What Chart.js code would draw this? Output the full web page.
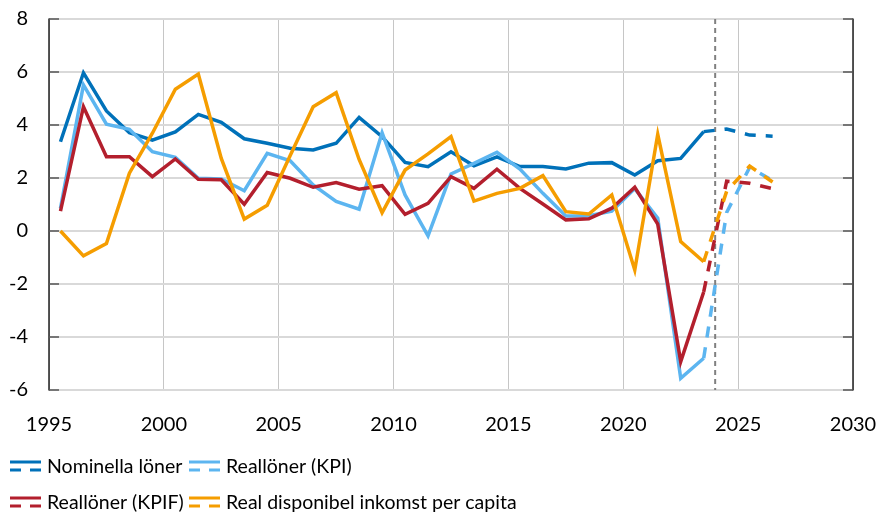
<!DOCTYPE html>
<html lang="sv">
<head>
  <meta charset="UTF-8">
  <title>Löner och disponibel inkomst</title>
  <style>
    html, body { margin: 0; padding: 0; background: #fff; }
    #wrap { width: 878px; height: 512px; }
  </style>
  <script src="https://cdn.jsdelivr.net/npm/chart.js"></script>
</head>
<body>
  <div id="wrap"><canvas id="chart" width="878" height="512"></canvas></div>

  <script>
    // Annual values, plotted mid-year
    const years = [1995, 1996, 1997, 1998, 1999, 2000, 2001, 2002, 2003, 2004,
                   2005, 2006, 2007, 2008, 2009, 2010, 2011, 2012, 2013, 2014,
                   2015, 2016, 2017, 2018, 2019, 2020, 2021, 2022, 2023, 2024,
                   2025, 2026];
    const nominellaLoner = [3.37, 5.97, 4.53, 3.71, 3.43, 3.74, 4.40, 4.10, 3.48, 3.31,
                            3.12, 3.06, 3.31, 4.29, 3.56, 2.59, 2.43, 2.99, 2.46, 2.80,
                            2.43, 2.43, 2.34, 2.56, 2.58, 2.11, 2.65, 2.74, 3.75, 3.85,
                            3.62, 3.58];
    const realKPI = [0.86, 5.51, 4.03, 3.84, 2.99, 2.78, 1.99, 1.96, 1.52, 2.93,
                     2.65, 1.74, 1.12, 0.82, 3.71, 1.36, -0.18, 2.15, 2.55, 2.97,
                     2.34, 1.42, 0.57, 0.58, 0.75, 1.60, 0.48, -5.56, -4.80, 0.70,
                     2.40, 1.90];
    const realKPIF = [0.75, 4.69, 2.80, 2.80, 2.05, 2.72, 1.95, 1.93, 1.01, 2.21,
                      1.99, 1.65, 1.83, 1.58, 1.71, 0.63, 1.04, 2.05, 1.61, 2.33,
                      1.61, 1.02, 0.42, 0.46, 0.86, 1.65, 0.26, -4.93, -2.30, 1.88,
                      1.80, 1.60];
    const dispInkomst = [0.00, -0.94, -0.47, 2.18, 3.69, 5.35, 5.92, 2.74, 0.45, 0.97,
                         2.85, 4.69, 5.22, 2.70, 0.69, 2.30, 2.91, 3.56, 1.13, 1.42,
                         1.61, 2.09, 0.73, 0.64, 1.36, -1.47, 3.65, -0.40, -1.16, 1.50,
                         2.45, 1.85];
    const seriesNames = ['Nominella löner', 'Reallöner (KPI)', 'Reallöner (KPIF)',
                         'Real disponibel inkomst per capita'];
    const seriesColors = ['#0071b9', '#5cb5f0', '#b31f2d', '#f59d00'];
    const xTicks = [1995, 2000, 2005, 2010, 2015, 2020, 2025, 2030];
    const yTicks = [-6, -4, -2, 0, 2, 4, 6, 8];
    const lastOutcome = 2023;   // dashed from here on
    const forecastLine = 2024;  // grey dotted divider

    const FONT = 'Lato, "Open Sans", sans-serif';

    function toPoints(values) {
      return years.map((y, i) => ({ x: y + 0.5, y: values[i] }));
    }

    function makeDataset(idx, values, order) {
      return {
        label: seriesNames[idx],
        data: toPoints(values),
        borderColor: seriesColors[idx],
        backgroundColor: seriesColors[idx],
        borderWidth: 3.5,
        pointRadius: 0,
        tension: 0,
        order: order,
        borderCapStyle: 'butt',
        segment: {
          borderDash: ctx => ctx.p0.parsed.x >= lastOutcome + 0.5 ? [11, 10] : undefined
        }
      };
    }

    // axis lines with inward ticks, divider line, legend
    const decorations = {
      id: 'decorations',
      beforeDatasetsDraw(chart) {
        const { ctx, chartArea: a, scales: { x } } = chart;
        const px = x.getPixelForValue(forecastLine);
        ctx.save();
        ctx.strokeStyle = '#808080';
        ctx.lineWidth = 2;
        ctx.setLineDash([5, 4]);
        ctx.beginPath();
        ctx.moveTo(px, a.top);
        ctx.lineTo(px, a.bottom);
        ctx.stroke();
        ctx.restore();
      },
      afterDraw(chart) {
        const { ctx, chartArea: a, scales: { y } } = chart;
        ctx.save();
        ctx.strokeStyle = '#222';
        ctx.lineWidth = 1.5;
        ctx.beginPath();
        ctx.moveTo(a.left, a.top - 0.5);
        ctx.lineTo(a.left, a.bottom + 0.5);
        ctx.moveTo(a.right, a.top - 0.5);
        ctx.lineTo(a.right, a.bottom + 0.5);
        ctx.stroke();
        ctx.strokeStyle = '#555';
        ctx.lineWidth = 1.5;
        ctx.beginPath();
        yTicks.forEach(v => {
          const py = y.getPixelForValue(v);
          ctx.moveTo(a.left, py);
          ctx.lineTo(a.left + 10, py);
          ctx.moveTo(a.right - 10, py);
          ctx.lineTo(a.right, py);
        });
        ctx.stroke();

        // legend, two rows
        const slots = [[10, 466], [189, 466], [10, 502], [189, 502]];
        ctx.font = '19.5px ' + FONT;
        ctx.textBaseline = 'middle';
        ctx.fillStyle = '#000';
        slots.forEach(([lx, ly], i) => {
          ctx.strokeStyle = seriesColors[i];
          ctx.lineWidth = 3;
          ctx.setLineDash([]);
          ctx.beginPath();
          ctx.moveTo(lx, ly - 4);
          ctx.lineTo(lx + 31, ly - 4);
          ctx.stroke();
          ctx.beginPath();
          ctx.moveTo(lx, ly + 4);
          ctx.lineTo(lx + 11, ly + 4);
          ctx.moveTo(lx + 20, ly + 4);
          ctx.lineTo(lx + 31, ly + 4);
          ctx.stroke();
          ctx.fillText(seriesNames[i], lx + 37, ly + 1);
        });
        ctx.restore();
      }
    };

    // keep the plot box fixed: ignore label overflow padding
    function noOverflow(scale) {
      scale.paddingTop = 0;
      scale.paddingBottom = 0;
      scale.paddingLeft = 0;
      scale.paddingRight = 0;
    }

    new Chart(document.getElementById('chart'), {
      type: 'line',
      data: {
        datasets: [
          makeDataset(0, nominellaLoner, 4),
          makeDataset(1, realKPI, 3),
          makeDataset(2, realKPIF, 2),
          makeDataset(3, dispInkomst, 1)
        ]
      },
      options: {
        responsive: false,
        animation: false,
        layout: { padding: { top: 19, right: 25, bottom: 72, left: 0 } },
        plugins: {
          legend: { display: false },
          tooltip: { enabled: false }
        },
        scales: {
          x: {
            type: 'linear',
            min: 1995,
            max: 2030,
            afterBuildTicks: scale => { scale.ticks = xTicks.map(v => ({ value: v })); },
            afterFit: scale => { scale.height = 50; noOverflow(scale); },
            grid: { color: '#c6c6c6', lineWidth: 1, drawTicks: false },
            border: { display: false },
            ticks: {
              padding: 23,
              color: '#000',
              font: { family: FONT, size: 20 },
              maxRotation: 0,
              callback: v => String(v)
            }
          },
          y: {
            min: -6,
            max: 8,
            afterBuildTicks: scale => { scale.ticks = yTicks.map(v => ({ value: v })); },
            afterFit: scale => { scale.width = 49; noOverflow(scale); },
            grid: { color: '#d9d9d9', lineWidth: 2, drawTicks: false },
            border: { display: false },
            ticks: {
              padding: 21,
              color: '#000',
              font: { family: FONT, size: 20 },
              callback: v => String(v)
            }
          }
        }
      },
      plugins: [decorations]
    });
  </script>
</body>
</html>
